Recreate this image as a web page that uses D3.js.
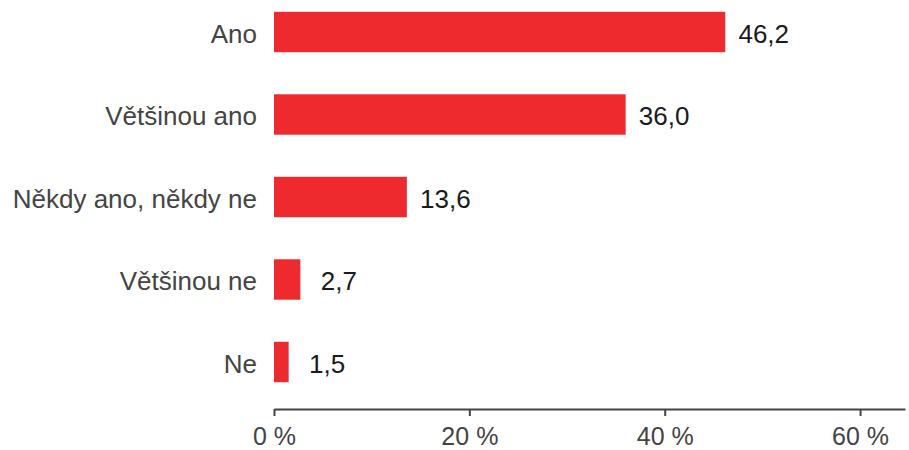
<!DOCTYPE html>
<html>
<head>
<meta charset="utf-8">
<script src="https://cdn.jsdelivr.net/npm/d3@7"></script>
<style>
  html, body { margin: 0; padding: 0; background: #fff; }
  svg { display: block; font-family: "Liberation Sans", Arial, sans-serif; }
</style>
</head>
<body>
<svg id="chart" width="909" height="450"></svg>
<script>
// Answer categories and their shares (%)
const categories = ["Ano", "Většinou ano", "Někdy ano, někdy ne", "Většinou ne", "Ne"];
const values = [46.2, 36.0, 13.6, 2.7, 1.5];
const tickValues = [0, 20, 40, 60];
const tickLabels = ["0 %", "20 %", "40 %", "60 %"];

const svg = d3.select("#chart");
const barColor = "#ee2a2e";

const x = d3.scaleLinear().domain([0, 64.6]).range([274, 905]);
const y = d3.scaleBand()
  .domain(categories)
  .range([-9.25, 403.25])
  .paddingInner(0.51)
  .paddingOuter(0.255);

const rows = categories.map((c, i) => ({ cat: c, val: values[i] }));
const fmt = v => d3.format(".1f")(v).replace(".", ",");

// Bars
svg.append("g").selectAll("rect")
  .data(rows)
  .join("rect")
  .attr("x", x(0))
  .attr("y", d => y(d.cat))
  .attr("width", d => x(d.val) - x(0))
  .attr("height", y.bandwidth())
  .attr("fill", barColor);

// Category labels
svg.append("g").selectAll("text")
  .data(rows)
  .join("text")
  .attr("x", x(0) - 17)
  .attr("y", d => y(d.cat) + y.bandwidth() / 2 + 1.5)
  .attr("dy", "0.35em")
  .attr("text-anchor", "end")
  .attr("font-size", 26)
  .attr("fill", "#444")
  .text(d => d.cat);

// Value labels, centred a fixed distance past the bar end
svg.append("g").selectAll("text")
  .data(rows)
  .join("text")
  .attr("x", d => x(d.val) + 38.5)
  .attr("y", d => y(d.cat) + y.bandwidth() / 2 + 1.5)
  .attr("dy", "0.35em")
  .attr("text-anchor", "middle")
  .attr("font-size", 26)
  .attr("fill", "#1a1a1a")
  .text(d => fmt(d.val));

// Bottom axis
const axis = d3.axisBottom(x)
  .tickValues(tickValues)
  .tickFormat((d, i) => tickLabels[i])
  .tickSizeInner(7)
  .tickSizeOuter(0)
  .tickPadding(11);

const gx = svg.append("g")
  .attr("transform", "translate(0,409)")
  .call(axis);
gx.select(".domain").attr("stroke", "#444").attr("stroke-width", 2);
gx.selectAll(".tick line").attr("stroke", "#444").attr("stroke-width", 2);
gx.selectAll(".tick text")
  .attr("font-size", 25)
  .attr("font-family", "'Liberation Sans', Arial, sans-serif")
  .attr("fill", "#444");
</script>
</body>
</html>
